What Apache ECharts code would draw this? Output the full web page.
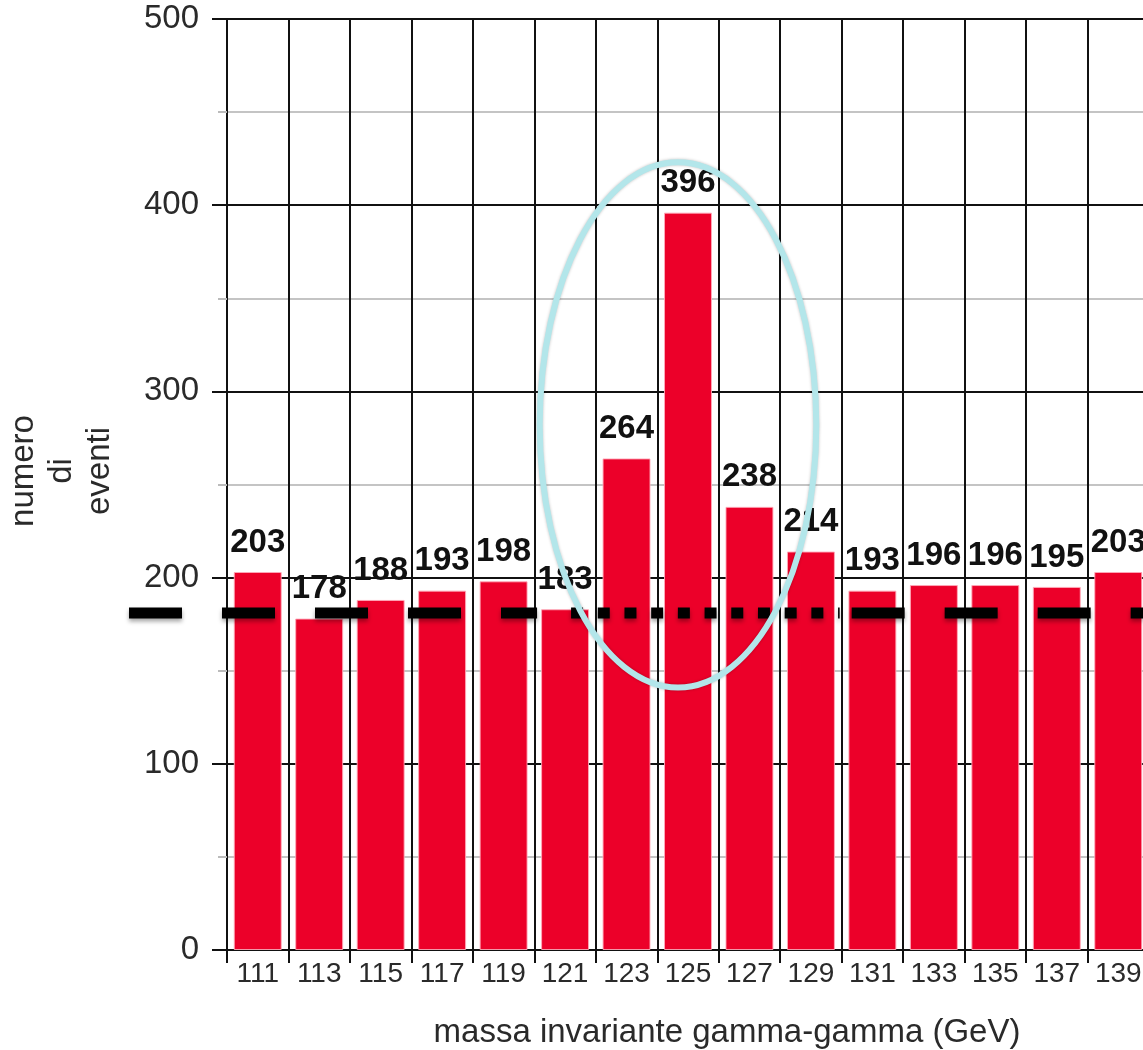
<!DOCTYPE html>
<html>
<head>
<meta charset="utf-8">
<script src="https://cdn.jsdelivr.net/npm/echarts@6/dist/echarts.min.js"></script>
<style>
html,body{margin:0;padding:0;background:#fff}
#main{width:1143px;height:1050px}
</style>
</head>
<body>
<div id="main"></div>
<script>
// massa invariante gamma-gamma (GeV) e numero di eventi per classe
var masse = ['111','113','115','117','119','121','123','125','127','129','131','133','135','137','139'];
var eventi = [203,178,188,193,198,183,264,396,238,214,193,196,196,195,203];
var yTicks = [0,100,200,300,400,500];
// livello del fondo (linea tratteggiata)
var fondo = 181;
// ellisse attorno al picco
var piccoMassa = '125';
var piccoCentro = 282;
var piccoSemiAsse = 141;

var font = 'Liberation Sans, Arial, sans-serif';
var chart = echarts.init(document.getElementById('main'));

var option = {
    animation: false,
    textStyle: { fontFamily: font },
    grid: { left: 227, top: 19, bottom: 100, right: -6, outerBoundsMode: 'none', containLabel: false },
    xAxis: {
        type: 'category',
        data: masse,
        name: 'massa invariante gamma-gamma (GeV)',
        nameLocation: 'middle',
        nameGap: 66,
        nameTextStyle: { fontSize: 33, color: '#2a2a2a', padding: [0, 0, 0, 78] },
        axisLine: { lineStyle: { color: '#111', width: 2 } },
        axisTick: { show: true, interval: 0, length: 13, lineStyle: { color: '#111', width: 2 } },
        axisLabel: { interval: 0, fontSize: 28, color: '#2a2a2a', margin: 10 },
        splitLine: { show: true, interval: 0, lineStyle: { color: '#111', width: 2 } }
    },
    yAxis: {
        type: 'value',
        min: yTicks[0],
        max: yTicks[yTicks.length - 1],
        interval: yTicks[1] - yTicks[0],
        name: 'numero\ndi\neventi',
        nameLocation: 'middle',
        nameGap: 108,
        nameTextStyle: { fontSize: 33, lineHeight: 38, color: '#2a2a2a', padding: [0, 0, 0, 27] },
        axisLine: { show: true, lineStyle: { color: '#111', width: 2 } },
        axisTick: { show: true, length: 15, lineStyle: { color: '#111', width: 2 } },
        minorTick: { show: true, splitNumber: 2, length: 9, lineStyle: { color: '#bbb', width: 2 } },
        minorSplitLine: { show: true, lineStyle: { color: '#c4c4c4', width: 2 } },
        axisLabel: { fontSize: 33, color: '#2a2a2a', margin: 28 },
        splitLine: { lineStyle: { color: '#111', width: 2 } }
    },
    series: [{
        type: 'bar',
        data: eventi,
        barCategoryGap: '22%',
        itemStyle: { color: '#ec0029', borderColor: 'rgba(255,170,185,0.9)', borderWidth: 1 },
        label: {
            show: true,
            position: 'top',
            distance: 13,
            fontSize: 33,
            fontWeight: 'bold',
            color: '#111'
        }
    }]
};
chart.setOption(option);

// linea del fondo ed ellisse, posizionate con le scale del grafico
function annotazioni() {
    var xOf = function (m) { return chart.convertToPixel({ xAxisIndex: 0 }, m); };
    var yOf = function (v) { return chart.convertToPixel({ yAxisIndex: 0 }, v); };
    var bw = xOf(masse[1]) - xOf(masse[0]);
    var gridLeft = xOf(masse[0]) - bw / 2;
    var yF = yOf(fondo);
    var tratto = {
        stroke: '#000', lineWidth: 11,
        shadowBlur: 4, shadowOffsetY: 3, shadowColor: 'rgba(0,0,0,0.35)'
    };
    var fineDotted = xOf('129') + bw / 2 - 2;
    chart.setOption({
        graphic: [
            {
                type: 'line', z: 50,
                shape: { x1: gridLeft - 98, y1: yF, x2: xOf('121') - 28, y2: yF },
                style: Object.assign({ lineDash: [53, 40] }, tratto)
            },
            {
                type: 'line', z: 50,
                shape: { x1: xOf('121') + 6, y1: yF, x2: fineDotted, y2: yF },
                style: Object.assign({ lineDash: [12, 14.7] }, tratto)
            },
            {
                type: 'line', z: 50,
                shape: { x1: fineDotted + 12, y1: yF, x2: 1143, y2: yF },
                style: Object.assign({ lineDash: [53, 40] }, tratto)
            },
            {
                type: 'ellipse', z: 60,
                shape: {
                    cx: xOf(piccoMassa) - 10,
                    cy: yOf(piccoCentro),
                    rx: bw * 2.25,
                    ry: yOf(0) - yOf(piccoSemiAsse)
                },
                style: {
                    fill: null, stroke: '#b3e6ea', lineWidth: 6,
                    shadowBlur: 3, shadowColor: 'rgba(0,0,0,0.25)'
                }
            }
        ]
    });
}
annotazioni();
</script>
</body>
</html>
